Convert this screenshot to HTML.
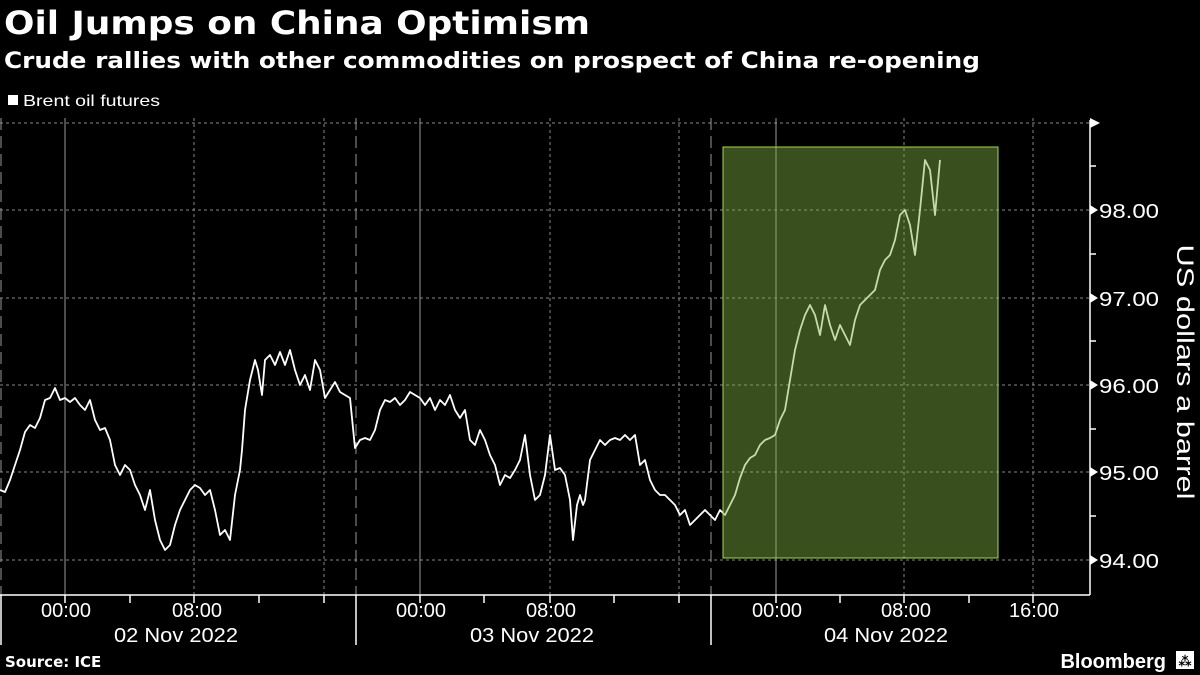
<!DOCTYPE html>
<html><head><style>
body{margin:0;background:#000;width:1200px;height:675px;overflow:hidden;font-family:"Liberation Sans","DejaVu Sans",sans-serif;color:#fff}
</style></head><body>
<svg width="1200" height="675" xmlns="http://www.w3.org/2000/svg" style="position:absolute;left:0;top:0">
<text x="4" y="34" font-size="32" font-weight="bold" fill="#fff" font-family="DejaVu Sans, sans-serif" textLength="586" lengthAdjust="spacingAndGlyphs">Oil Jumps on China Optimism</text>
<text x="4" y="68" font-size="22" font-weight="bold" fill="#fff" font-family="DejaVu Sans, sans-serif" textLength="976" lengthAdjust="spacingAndGlyphs">Crude rallies with other commodities on prospect of China re-opening</text>
<rect x="8" y="95" width="10" height="10" fill="#fff"/>
<text x="23" y="106" font-size="16" fill="#fff" textLength="137" lengthAdjust="spacingAndGlyphs">Brent oil futures</text>
<g stroke="#888" stroke-width="1" stroke-dasharray="3,3">
<line x1="0" y1="123" x2="1090" y2="123"/><line x1="0" y1="210" x2="1090" y2="210"/><line x1="0" y1="298" x2="1090" y2="298"/><line x1="0" y1="385" x2="1090" y2="385"/><line x1="0" y1="472" x2="1090" y2="472"/><line x1="0" y1="560" x2="1090" y2="560"/>
<line x1="194" y1="118" x2="194" y2="595"/><line x1="550" y1="118" x2="550" y2="595"/><line x1="904" y1="118" x2="904" y2="595"/><line x1="1033" y1="118" x2="1033" y2="595"/><line x1="324" y1="118" x2="324" y2="595"/><line x1="679" y1="118" x2="679" y2="595"/>
</g>
<g stroke="#999" stroke-width="1" stroke-dasharray="12,6">
<line x1="1" y1="118" x2="1" y2="595"/><line x1="356" y1="118" x2="356" y2="595"/><line x1="711" y1="118" x2="711" y2="595"/>
</g>
<g stroke="#999" stroke-width="1">
<line x1="65" y1="118" x2="65" y2="595"/><line x1="420" y1="118" x2="420" y2="595"/><line x1="776" y1="118" x2="776" y2="595"/>
</g>
<polyline fill="none" stroke="#fff" stroke-width="1.8" stroke-linejoin="round" points="0,490 5,492 10,480 15,465 20,450 25,432 30,425 35,428 40,418 45,400 50,398 55,388 60,400 65,398 70,402 75,398 80,405 85,410 90,400 95,420 100,430 105,428 110,440 115,465 120,475 125,465 130,470 135,485 140,495 145,510 150,490 155,520 160,540 165,550 170,545 175,525 180,510 185,500 190,490 195,485 200,488 205,495 210,490 215,510 220,535 225,530 230,540 235,495 240,470 242,450 245,410 250,380 255,360 258,370 262,395 265,360 270,355 275,365 280,352 285,365 290,350 295,370 300,385 305,375 310,390 315,360 320,370 325,398 330,390 335,382 340,392 345,395 350,398 355,448 360,440 365,438 370,440 375,430 380,410 385,400 390,402 395,398 400,405 405,400 410,392 415,395 420,398 425,405 430,398 435,410 440,400 445,405 450,395 455,410 460,418 465,410 470,440 475,445 480,430 485,440 490,455 495,465 500,485 505,475 510,478 515,470 520,460 525,435 530,475 535,500 540,495 545,475 550,435 555,470 560,468 565,475 570,500 573,540 577,505 580,495 583,505 585,500 590,460 595,450 600,440 605,445 610,440 615,438 620,440 625,435 630,440 635,435 640,465 645,460 650,480 655,490 660,495 665,495 670,500 675,505 680,515 685,510 690,525 695,520 700,515 705,510 710,515 715,520 720,510 725,515 730,505 735,495 740,478 745,465 750,458 755,455 760,445 765,440 770,438 775,435 780,420 785,410 790,380 795,350 800,330 805,315 810,305 815,315 820,335 825,305 830,325 835,340 840,325 845,335 850,345 855,320 860,305 865,300 870,295 875,290 880,270 885,260 890,255 895,240 900,215 905,210 910,225 915,255 920,210 925,160 930,170 935,215 940,160"/>
<rect x="723" y="147" width="275" height="411" fill="rgba(128,176,66,0.45)" stroke="#a6d84a" stroke-width="1"/>
<g stroke="#fff" stroke-width="1.5">
<line x1="0" y1="595" x2="1090" y2="595"/>
<line x1="1090" y1="120" x2="1090" y2="595"/>
<line x1="65" y1="595" x2="65" y2="603"/><line x1="130" y1="595" x2="130" y2="603"/><line x1="194" y1="595" x2="194" y2="603"/><line x1="259" y1="595" x2="259" y2="603"/><line x1="324" y1="595" x2="324" y2="603"/>
<line x1="420" y1="595" x2="420" y2="603"/><line x1="484" y1="595" x2="484" y2="603"/><line x1="550" y1="595" x2="550" y2="603"/><line x1="614" y1="595" x2="614" y2="603"/><line x1="679" y1="595" x2="679" y2="603"/>
<line x1="776" y1="595" x2="776" y2="603"/><line x1="840" y1="595" x2="840" y2="603"/><line x1="904" y1="595" x2="904" y2="603"/><line x1="969" y1="595" x2="969" y2="603"/><line x1="1033" y1="595" x2="1033" y2="603"/>
<line x1="1" y1="595" x2="1" y2="645"/><line x1="356" y1="595" x2="356" y2="645"/><line x1="711" y1="595" x2="711" y2="645"/>
<line x1="1090" y1="166" x2="1096" y2="166"/><line x1="1090" y1="254" x2="1096" y2="254"/><line x1="1090" y1="341" x2="1096" y2="341"/><line x1="1090" y1="429" x2="1096" y2="429"/><line x1="1090" y1="516" x2="1096" y2="516"/>
</g>
<g fill="#fff">
<polygon points="1090,118 1100,123 1090,128"/>
<polygon points="1090,205 1098,210 1090,215"/><polygon points="1090,293 1098,298 1090,303"/><polygon points="1090,380 1098,385 1090,390"/><polygon points="1090,467 1098,472 1090,477"/><polygon points="1090,555 1098,560 1090,565"/>
</g>
<g font-size="20" fill="#fff">
<text x="1099" y="218" textLength="60" lengthAdjust="spacingAndGlyphs">98.00</text><text x="1099" y="306" textLength="60" lengthAdjust="spacingAndGlyphs">97.00</text><text x="1099" y="393" textLength="60" lengthAdjust="spacingAndGlyphs">96.00</text><text x="1099" y="480" textLength="60" lengthAdjust="spacingAndGlyphs">95.00</text><text x="1099" y="568" textLength="60" lengthAdjust="spacingAndGlyphs">94.00</text>
</g>
<g font-size="20" fill="#fff" text-anchor="middle">
<text x="66" y="617">00:00</text><text x="197" y="617">08:00</text><text x="421" y="617">00:00</text><text x="551" y="617">08:00</text><text x="777" y="617">00:00</text><text x="906" y="617">08:00</text><text x="1034" y="617">16:00</text>
<text x="176" y="642" textLength="124" lengthAdjust="spacingAndGlyphs">02 Nov 2022</text><text x="532" y="642" textLength="124" lengthAdjust="spacingAndGlyphs">03 Nov 2022</text><text x="886" y="642" textLength="124" lengthAdjust="spacingAndGlyphs">04 Nov 2022</text>
</g>
<text transform="translate(1177,372) rotate(90)" text-anchor="middle" font-size="24" fill="#fff" textLength="255" lengthAdjust="spacingAndGlyphs">US dollars a barrel</text>
<text x="5" y="667" font-size="15" font-weight="bold" fill="#fff" font-family="DejaVu Sans, sans-serif">Source: ICE</text>
<text x="1166" y="668" text-anchor="end" font-size="20" font-weight="bold" fill="#fff">Bloomberg</text>
<rect x="1176" y="651" width="18" height="18" fill="#fff"/>
<text x="1185" y="666" text-anchor="middle" font-size="13" font-weight="bold" fill="#000">⁂</text>
</svg>
</body></html>
